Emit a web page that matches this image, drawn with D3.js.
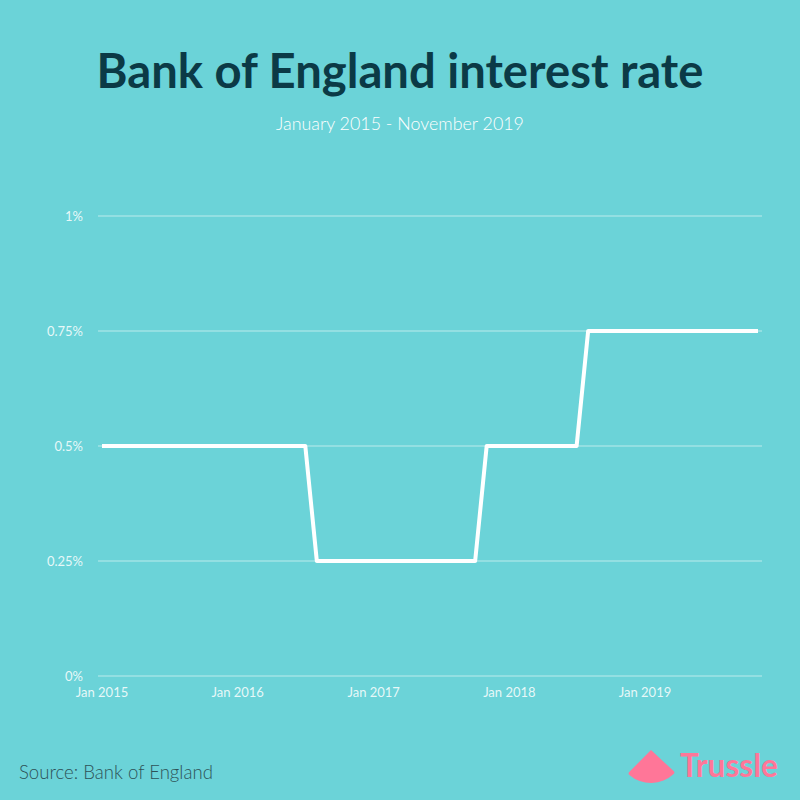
<!DOCTYPE html>
<html>
<head>
<meta charset="utf-8">
<script src="https://cdn.jsdelivr.net/npm/d3@7"></script>
<style>
  html, body { margin: 0; padding: 0; background: #6bd3d8; }
  svg { display: block; }
</style>
</head>
<body>
<svg id="chart" width="800" height="800"></svg>
<script>
// ---- data ----
const title = "Bank of England interest rate";
const subtitle = "January 2015 - November 2019";
const source = "Source: Bank of England";
const brand = "Trussle";
const startMonth = "2015-01";
const endMonth = "2019-11";
// monthly Bank Rate (%) Jan 2015 .. Nov 2019
const rates = [
  0.5,0.5,0.5,0.5,0.5,0.5,0.5,0.5,0.5,0.5,0.5,0.5,     // 2015
  0.5,0.5,0.5,0.5,0.5,0.5,0.5,0.25,0.25,0.25,0.25,0.25, // 2016
  0.25,0.25,0.25,0.25,0.25,0.25,0.25,0.25,0.25,0.25,0.5,0.5, // 2017
  0.5,0.5,0.5,0.5,0.5,0.5,0.5,0.75,0.75,0.75,0.75,0.75, // 2018
  0.75,0.75,0.75,0.75,0.75,0.75,0.75,0.75,0.75,0.75,0.75 // 2019 (to Nov)
];
const yTicks = [0, 0.25, 0.5, 0.75, 1];
const yTickLabels = ["0%", "0.25%", "0.5%", "0.75%", "1%"];
const xTickDates = ["2015-01", "2016-01", "2017-01", "2018-01", "2019-01"];
const xTickLabels = ["Jan 2015", "Jan 2016", "Jan 2017", "Jan 2018", "Jan 2019"];

// ---- setup ----
const parse = d3.timeParse("%Y-%m");
const t0 = parse(startMonth), t1 = parse(endMonth);
const months = d3.timeMonth.range(t0, d3.timeMonth.offset(t1, 1));
const data = months.map((d, i) => ({ date: d, value: rates[i] }));

const svg = d3.select("#chart");
svg.append("rect").attr("width", 800).attr("height", 800).attr("fill", "#6bd3d8");

const x = d3.scaleTime().domain([t0, t1]).range([102, 758]);
const y = d3.scaleLinear().domain([0, 1]).range([676, 216]);

function fitText(sel, width) {
  const len = sel.node().getComputedTextLength();
  const fs = parseFloat(sel.attr("font-size"));
  sel.attr("font-size", fs * width / len);
}

// title
const tt = svg.append("text").attr("x", 400).attr("y", 88)
  .attr("text-anchor", "middle").attr("font-family", "Lato, sans-serif")
  .attr("font-weight", 700).attr("font-size", 44).attr("fill", "#0b3a46")
  .text(title);
fitText(tt, 607);

const st = svg.append("text").attr("x", 400).attr("y", 130)
  .attr("text-anchor", "middle").attr("font-family", "Lato, sans-serif")
  .attr("font-weight", 300).attr("font-size", 17).attr("fill", "#ffffff")
  .text(subtitle);
fitText(st, 248);

// grid
const grid = svg.append("g");
grid.selectAll("line").data(yTicks).join("line")
  .attr("x1", 98).attr("x2", 762)
  .attr("y1", d => y(d)).attr("y2", d => y(d))
  .attr("stroke", "rgba(255,255,255,0.55)").attr("stroke-width", 1);

// y axis labels
svg.append("g").selectAll("text").data(yTicks).join("text")
  .attr("x", 83).attr("y", d => y(d) + 5)
  .attr("text-anchor", "end").attr("font-family", "Lato, sans-serif")
  .attr("font-size", 13).attr("fill", "rgba(255,255,255,0.85)")
  .text((d, i) => yTickLabels[i]);

// x axis labels
svg.append("g").selectAll("text").data(xTickDates).join("text")
  .attr("x", d => x(parse(d))).attr("y", 697)
  .attr("text-anchor", "middle").attr("font-family", "Lato, sans-serif")
  .attr("font-size", 13).attr("fill", "rgba(255,255,255,0.85)")
  .text((d, i) => xTickLabels[i]);

// line
const line = d3.line().x(d => x(d.date)).y(d => y(d.value));
svg.append("path").datum(data)
  .attr("d", line).attr("fill", "none")
  .attr("stroke", "#ffffff").attr("stroke-width", 4)
  .attr("stroke-linejoin", "round").attr("stroke-linecap", "butt");

// source
const so = svg.append("text").attr("x", 19).attr("y", 779)
  .attr("font-family", "Lato, sans-serif").attr("font-weight", 300)
  .attr("font-size", 18).attr("fill", "#2e5257")
  .text(source);
fitText(so, 194);

// brand logo
const arc = d3.arc().innerRadius(0).outerRadius(33)
  .startAngle(Math.PI - 0.82).endAngle(Math.PI + 0.78).cornerRadius(2);
svg.append("path").attr("d", arc()).attr("transform", "translate(651,750)")
  .attr("fill", "#ff7698");
const br = svg.append("text").attr("x", 680).attr("y", 777)
  .attr("font-family", "Lato, sans-serif").attr("font-weight", 700)
  .attr("font-size", 32).attr("fill", "#ff7698")
  .text(brand);
fitText(br, 98);
</script>
</body>
</html>
